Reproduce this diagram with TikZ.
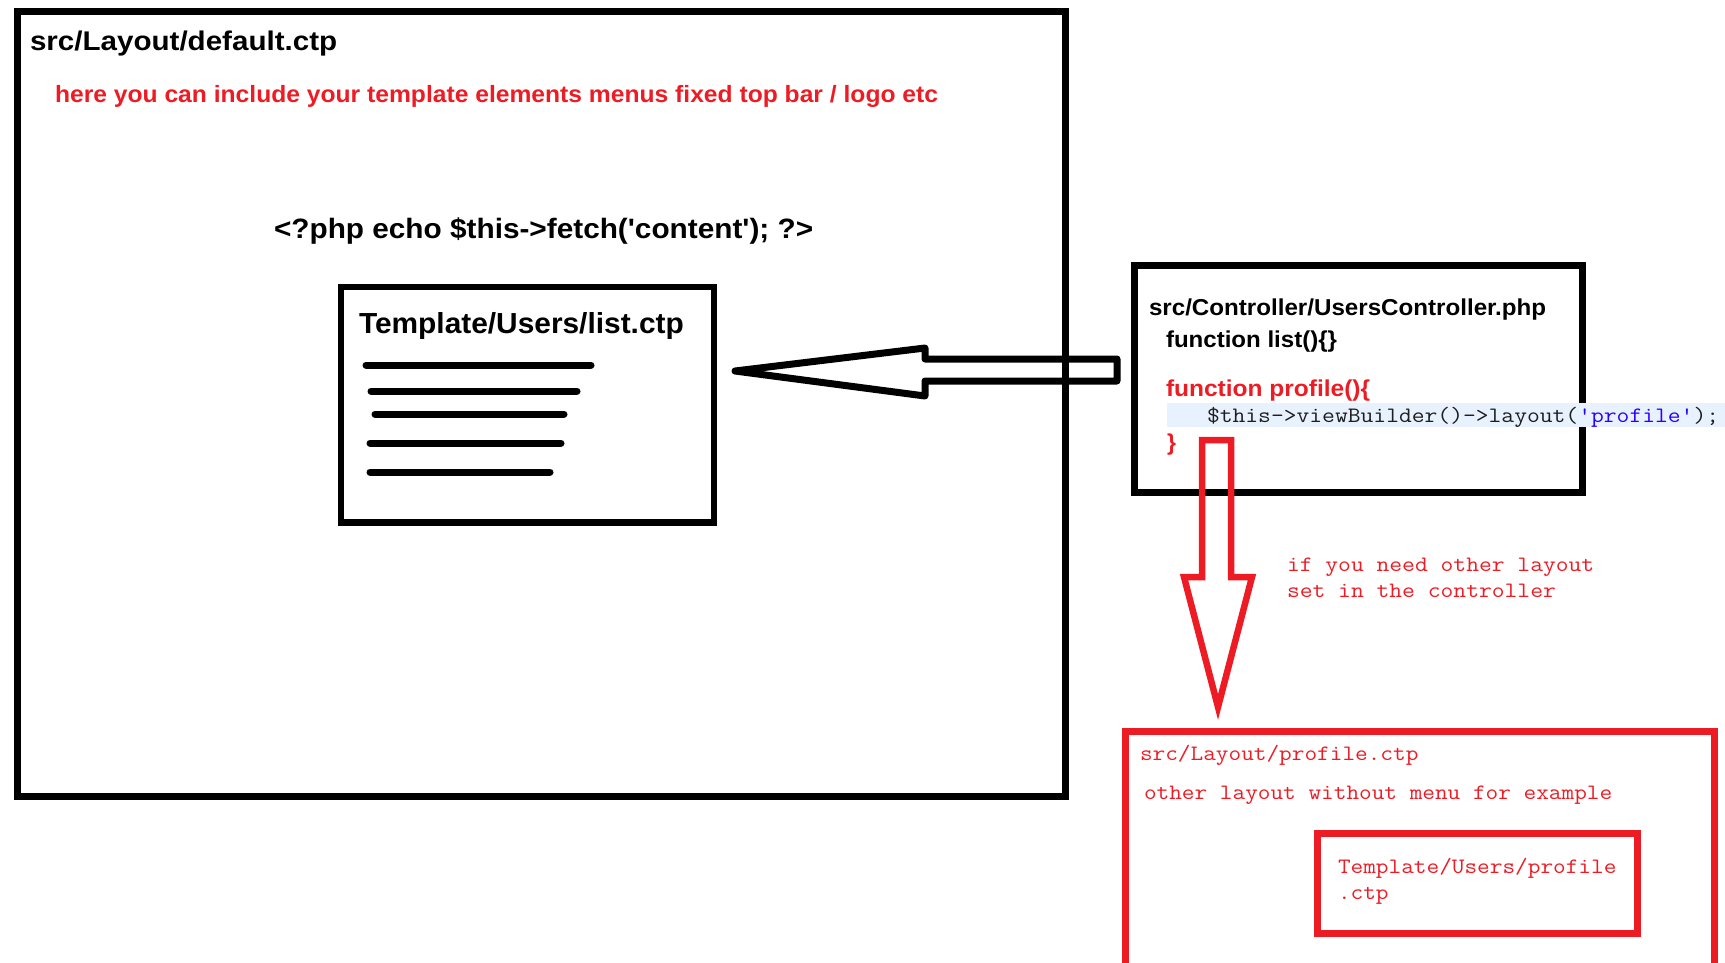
\documentclass[tikz,border=0pt]{standalone}
\usepackage{fontspec}
\usepackage{graphicx}
\newfontfamily\arial{Liberation Sans}
\definecolor{pred}{RGB}{237,28,36}
\definecolor{hl}{RGB}{232,242,254}
\definecolor{strblue}{RGB}{42,0,255}
\definecolor{codegray}{RGB}{30,30,30}
\newcommand{\fsz}[1]{\fontsize{#1}{#1}\selectfont}
\newcommand{\sx}[2]{\scalebox{#1}[1]{#2}}
\begin{document}
\begin{tikzpicture}[x=1pt,y=-1pt,
  lbl/.style={anchor=base west,inner sep=0pt,outer sep=0pt},
  blackbox/.style={draw=black,line width=7pt,inner sep=0pt},
  redbox/.style={draw=pred,line width=7pt,inner sep=0pt},
  bar/.style={draw=black,line width=7pt,line cap=round},
  sansb/.style={lbl,font=\arial\bfseries},
  mono/.style={lbl,font=\ttfamily,text=pred}]
\useasboundingbox (0,0) rectangle (1725,962);
\clip (0,0) rectangle (1725,962);

% main layout box
\node[blackbox,minimum width=1047.5pt,minimum height=785pt] (layout) at (541.25,403.5) {};
\node[sansb] (layouttitle) at (30,50.5) {\fsz{27}\sx{1.095}{src/Layout/default.ctp}};
\node[sansb,text=pred] (layoutnote) at (55,102) {\fsz{23.6}\sx{1.044}{here you can include your template elements menus fixed top bar / logo etc}};
\node[sansb] (fetch) at (274,238) {\fsz{28}\sx{1.063}{<?php echo \$this->fetch('content'); ?>}};

% template box
\node[blackbox,line width=6.5pt,minimum width=373pt,minimum height=235.5pt] (tpl) at (527.5,404.75) {};
\node[sansb] (tpltitle) at (359,333) {\fsz{29}\sx{1.03}{Template/Users/list.ctp}};
\draw[bar] (366,365) -- (591,365);
\draw[bar] (371,391) -- (577,391);
\draw[bar] (375,414) -- (564,414);
\draw[bar] (370,443) -- (561,443);
\draw[bar] (370,472) -- (550,472);

% black hollow arrow
\draw[line width=7pt,line join=round] (735,371) -- (925,348) -- (925,359) -- (1117,359)
  -- (1117,381) -- (925,381) -- (925,396) -- cycle;

% controller box
\node[blackbox,minimum width=448pt,minimum height=227pt] (ctrlbox) at (1358,378.5) {};
\node[fill=hl,anchor=north west,minimum width=558pt,minimum height=24pt,inner sep=0pt] (hlband) at (1167,403) {};
\node[sansb] (ctrl) at (1149,315) {\fsz{23}\sx{1.05}{src/Controller/UsersController.php}};
\node[sansb] (flist) at (1166,347) {\fsz{23}\sx{1.046}{function list()\{\}}};
\node[sansb,text=pred] (fprof) at (1166,396.5) {\fsz{23}\sx{1.065}{function profile()\{}};
\node[lbl,font=\ttfamily] (code) at (1207,422) {\fsz{22}\sx{1.13}{\textcolor{codegray}{\$this->viewBuilder()->layout(}\textcolor{strblue}{'profile'}\textcolor{codegray}{);}}};
\node[sansb,text=pred] (fclose) at (1167,450) {\fsz{23}\}};

% red hollow arrow
\draw[pred,line width=6.5pt] (1202,577) -- (1202,440) -- (1231,440) -- (1231,577)
  -- (1252,577) -- (1218,707) -- (1184,577) -- cycle;
\node[mono] (hint1) at (1287,571) {\fsz{22}\sx{1.13}{if you need other layout}};
\node[mono] (hint2) at (1287,597) {\fsz{22}\sx{1.13}{set in the controller}};

% profile layout box
\node[redbox,minimum width=589pt,minimum height=269pt] (profbox) at (1419.5,865.5) {};
\node[redbox,minimum width=320pt,minimum height=100pt] (proftplbox) at (1477,883) {};
\node[mono] (proftitle) at (1140,760) {\fsz{22}\sx{1.117}{src/Layout/profile.ctp}};
\node[mono] (profnote) at (1144,799) {\fsz{22}\sx{1.117}{other layout without menu for example}};
\node[mono] (proftpl1) at (1338,873) {\fsz{22}\sx{1.117}{Template/Users/profile}};
\node[mono] (proftpl2) at (1338,899) {\fsz{22}\sx{1.117}{.ctp}};
\end{tikzpicture}
\end{document}
